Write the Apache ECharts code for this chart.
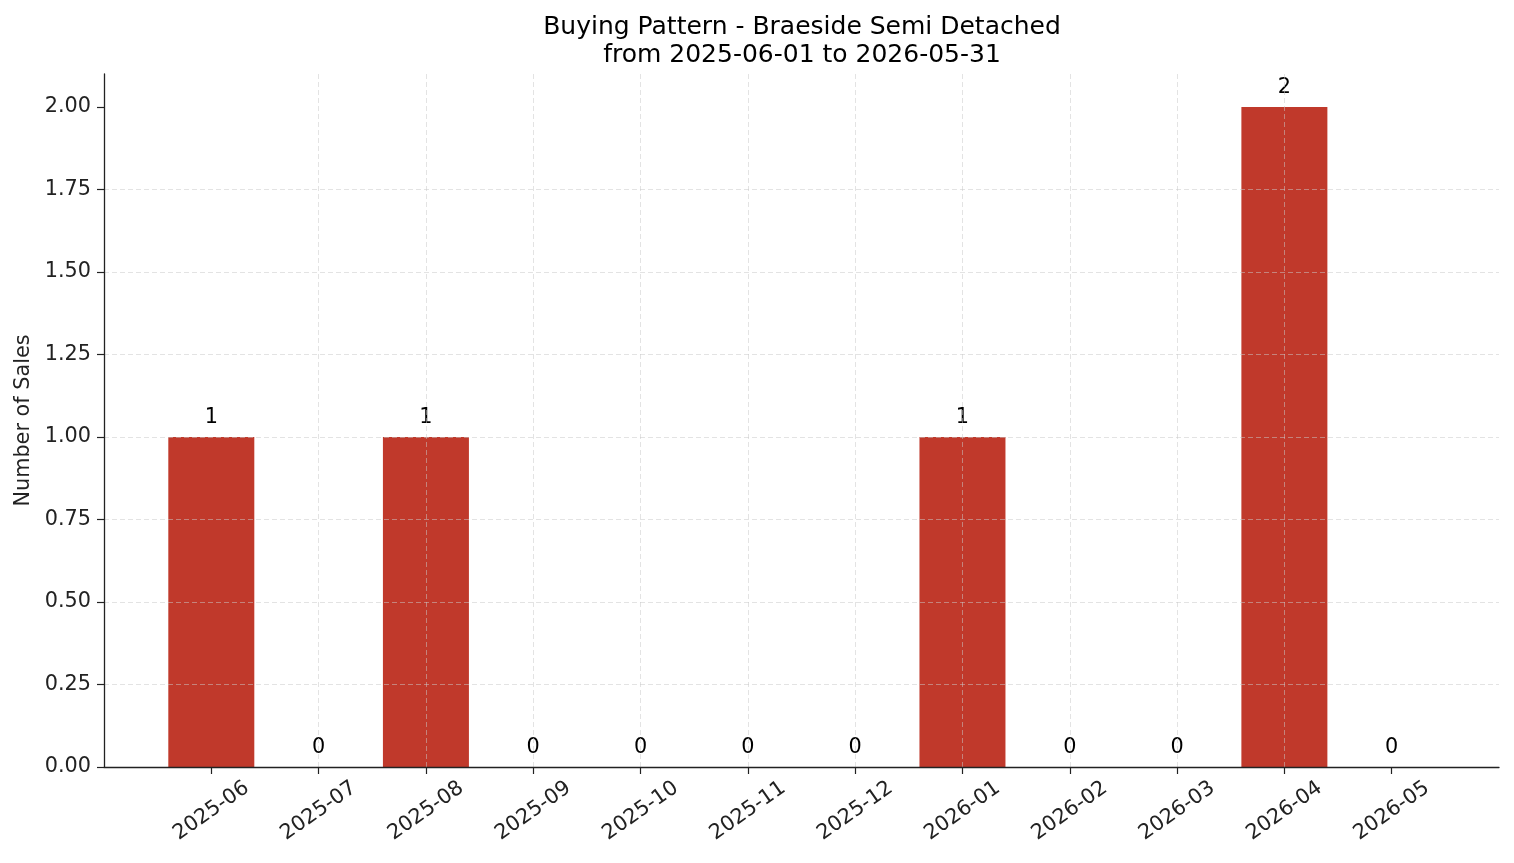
<!DOCTYPE html>
<html>
<head>
<meta charset="utf-8">
<script src="https://cdn.jsdelivr.net/npm/echarts@6/dist/echarts.min.js"></script>
<style>
  html, body { margin: 0; padding: 0; background: #fff; }
  #chart { width: 1514px; height: 863px; }
</style>
</head>
<body>
<div id="chart"></div>
<script>
const months = [
  '2025-06', '2025-07', '2025-08', '2025-09', '2025-10', '2025-11',
  '2025-12', '2026-01', '2026-02', '2026-03', '2026-04', '2026-05',
]
const sales = [1, 0, 1, 0, 0, 0, 0, 1, 0, 0, 2, 0]
const yTicks = [0, 0.25, 0.5, 0.75, 1, 1.25, 1.5, 1.75, 2]

const FONT = 'DejaVu Sans'
const INK = '#222'
const GRID_LINE = { show: true, lineStyle: { color: 'rgba(200,200,200,0.65)', type: [5, 3], width: 0.8 }, showMinLine: false, showMaxLine: false }

const chart = echarts.init(document.getElementById('chart'))

chart.setOption({
  backgroundColor: '#fff',
  textStyle: { fontFamily: FONT },
  title: {
    text: 'Buying Pattern - Braeside Semi Detached\nfrom 2025-06-01 to 2026-05-31',
    left: 797,
    top: 8,
    textAlign: 'center',
    textStyle: { fontFamily: FONT, fontSize: 25, fontWeight: 'normal', color: '#000', lineHeight: 28 },
  },
  grid: { left: 104, right: 15, top: 74, bottom: 96, containLabel: false },
  xAxis: {
    type: 'value',
    min: -1,
    max: 12,
    interval: 1,
    z: 5,
    axisLine: { show: true, onZero: false, lineStyle: { color: INK, width: 1.3 } },
    axisTick: { show: true, customValues: months.map((_, i) => i), length: 7, lineStyle: { color: INK, width: 1.2 } },
    axisLabel: {
      customValues: months.map((_, i) => i),
      formatter: (v) => months[Math.round(v)] ?? '',
      rotate: 35,
      align: 'center',
      verticalAlign: 'middle',
      margin: 44,
      fontFamily: FONT,
      fontSize: 20.8,
      color: INK,
    },
    splitLine: GRID_LINE,
  },
  yAxis: {
    type: 'value',
    min: 0,
    max: 2.1,
    interval: 0.25,
    z: 5,
    name: 'Number of Sales',
    nameLocation: 'middle',
    nameRotate: 90,
    nameGap: 70,
    nameTextStyle: { fontFamily: FONT, fontSize: 20.8, color: INK },
    axisLine: { show: true, onZero: false, lineStyle: { color: INK, width: 1.3 } },
    axisTick: { show: true, customValues: yTicks, length: 7, lineStyle: { color: INK, width: 1.2 } },
    axisLabel: {
      customValues: yTicks,
      formatter: (v) => v.toFixed(2),
      margin: 13,
      fontFamily: FONT,
      fontSize: 20.8,
      color: INK,
    },
    splitLine: GRID_LINE,
  },
  series: [
    {
      type: 'bar',
      z: 1,
      barWidth: 86,
      itemStyle: { color: '#c0392b' },
      label: {
        show: true,
        position: 'top',
        distance: 9,
        formatter: (p) => String(p.value[1]),
        fontFamily: FONT,
        fontSize: 20.8,
        color: '#000',
      },
      data: sales.map((v, i) => [i, v]),
    },
  ],
})
</script>
</body>
</html>
